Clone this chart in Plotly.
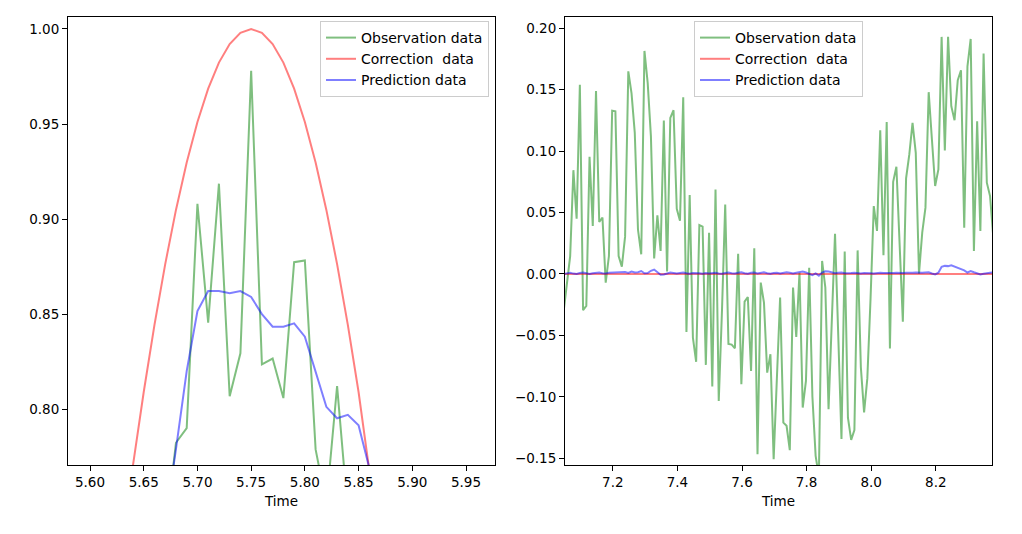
import numpy as np
import plotly.graph_objects as go

# ---------------- Left panel data ----------------
t_left = [5.62, 5.63, 5.64, 5.65, 5.66, 5.67, 5.68, 5.69, 5.70, 5.71, 5.72, 5.73, 5.74,
          5.75, 5.76, 5.77, 5.78, 5.79, 5.80, 5.81, 5.82, 5.83, 5.84, 5.85, 5.86,
          5.87, 5.88]
obs_left = [0.60, 0.62, 0.65, 0.68, 0.70, 0.733, 0.7823, 0.790, 0.908, 0.8455, 0.9186,
            0.8068, 0.8294, 0.978, 0.8236, 0.8266, 0.8058, 0.8773, 0.8782, 0.7788,
            0.750, 0.8121, 0.746, 0.70, 0.68, 0.66, 0.64]
cor_left = [0.685, 0.729, 0.7705, 0.809, 0.8443, 0.8763, 0.9048, 0.9298, 0.9511, 0.9686,
            0.9823, 0.9921, 0.998, 1.000, 0.998, 0.9921, 0.9823, 0.9686, 0.9511, 0.9298,
            0.9048, 0.8763, 0.8443, 0.809, 0.7705, 0.729, 0.685]
pred_left = [0.64, 0.66, 0.68, 0.70, 0.72, 0.74, 0.779, 0.820, 0.8516, 0.8621, 0.8621,
             0.861, 0.8621, 0.859, 0.850, 0.8434, 0.8434, 0.8451, 0.8381, 0.820, 0.8012,
             0.7952, 0.797, 0.7915, 0.769, 0.74, 0.72]

# ---------------- Right panel data ----------------
t_right = np.round(7.048 + 0.01 * np.arange(134), 3)
obs_right = [
    -0.03, -0.008, 0.0146, 0.0845, 0.045, 0.154, -0.0295, -0.026, 0.0954, 0.039,
    0.149, 0.0423, 0.046, -0.007, 0.0146, 0.133, 0.1325, 0.0146, 0.006, 0.0304,
    0.165, 0.147, 0.115, 0.036, 0.016, 0.1816, 0.1556, 0.112, 0.0127, 0.0477,
    0.0187, 0.125, 0.002, 0.127, 0.1333, 0.0531, 0.0434, 0.1439, -0.0472, 0.0642,
    -0.0518, -0.0715, 0.0398, 0.0385, -0.074, 0.0336, -0.0916, 0.0688, -0.1033, -0.03,
    0.0566, -0.057, -0.0575, -0.0605, 0.0165, -0.0897, -0.0225, -0.0187, -0.079, 0.021,
    -0.1468, -0.007, -0.0233, -0.0803, -0.0653, -0.1507, -0.085, -0.0192, -0.121, -0.1236,
    -0.1434, -0.011, -0.0512, 0.001, -0.1087, -0.087, 0.005, -0.10, -0.148, -0.165,
    0.0106, -0.011, -0.110, -0.04, 0.0328, -0.05, -0.1344, 0.0182, -0.117, -0.135,
    -0.127, 0.0192, -0.076, -0.1127, -0.085, -0.02, 0.0553, 0.035, 0.117, 0.0152,
    0.1238, -0.0607, 0.075, 0.0873, 0.02, -0.0388, 0.0778, 0.0973, 0.123, 0.0986,
    0.0003, 0.0336, 0.054, 0.148, 0.1095, 0.0716, 0.0851, 0.193, 0.1005, 0.193,
    0.1366, 0.1252, 0.1577, 0.1659, 0.0377, 0.169, 0.1913, 0.0187, 0.1244, 0.035,
    0.1794, 0.0743, 0.0634, 0.03]
cor_right = [0.0] * 134
pred_right = [
    0.0, 0.0005, 0.001, 0.0003, 0.0, 0.0008, 0.0012, 0.0006, 0.0, 0.0006,
    0.001, 0.0012, 0.0006, 0.0004, 0.001, 0.0012, 0.0014, 0.001, 0.0012, 0.0016,
    0.0008, 0.002, 0.0012, 0.0014, 0.0024, 0.0006, 0.0008, 0.0026, 0.0036, 0.0012,
    -0.0006, -0.0004, 0.0004, 0.0012, 0.0008, 0.0004, 0.0008, 0.0012, 0.0006, 0.0002,
    0.0008, 0.001, 0.0006, 0.0002, 0.0008, 0.0004, 0.0006, 0.001, 0.0004, 0.0002,
    0.0008, 0.0012, 0.0006, 0.0004, 0.001, 0.0014, 0.0006, 0.0002, 0.001, 0.0012,
    0.0004, 0.0008, 0.0014, 0.0006, 0.0002, 0.0008, 0.001, 0.0004, 0.0008, 0.0014,
    0.001, 0.0004, 0.001, 0.0016, 0.002, 0.0012, 0.0002, -0.001, 0.0004, -0.0014,
    0.0012, 0.0022, 0.002, 0.001, 0.0006, 0.001, 0.0012, 0.0006, 0.0004, 0.0008,
    0.001, 0.0006, 0.0004, 0.0008, 0.001, 0.0006, 0.0004, 0.0008, 0.001, 0.0008,
    0.0006, 0.0004, 0.0008, 0.001, 0.0006, 0.0008, 0.001, 0.0008, 0.001, 0.0012,
    0.0008, 0.001, 0.0012, 0.0014, 0.0004, -0.0004, 0.001, 0.0058, 0.0066, 0.0064,
    0.007, 0.006, 0.0046, 0.004, 0.003, 0.0012, 0.0024, 0.0014, 0.0002, -0.0004,
    0.0002, 0.0008, 0.001, 0.0012]

names = ["Observation data", "Correction\u00a0 data", "Prediction data"]
colors = ["rgba(0,128,0,0.5)", "rgba(255,0,0,0.5)", "rgba(0,0,255,0.5)"]

FONT = "DejaVu Sans"
W, H = 1022, 534

fig = go.Figure()
for ys, nm, c in zip([obs_left, cor_left, pred_left], names, colors):
    fig.add_trace(go.Scatter(x=t_left, y=ys, mode="lines", name=nm,
                             line=dict(color=c, width=2), xaxis="x", yaxis="y",
                             legend="legend"))
for ys, nm, c in zip([obs_right, cor_right, pred_right], names, colors):
    fig.add_trace(go.Scatter(x=t_right, y=ys, mode="lines", name=nm,
                             line=dict(color=c, width=2), xaxis="x2", yaxis="y2",
                             legend="legend2"))

axis_common = dict(showline=True, linecolor="black", linewidth=1, mirror=True,
                   ticks="outside", ticklen=5, tickcolor="black", tickwidth=1,
                   showgrid=False, zeroline=False,
                   tickfont=dict(family=FONT, size=13.5, color="black"))

y0 = (H - 465) / H
y1 = (H - 17) / H

legend_common = dict(yanchor="top", bgcolor="rgba(255,255,255,0.8)",
                     bordercolor="#cccccc", borderwidth=1,
                     font=dict(family=FONT, size=14), tracegroupgap=0, itemwidth=30)

fig.update_layout(
    width=W, height=H,
    margin=dict(l=0, r=0, t=0, b=0),
    paper_bgcolor="white", plot_bgcolor="white",
    font=dict(family=FONT, size=13.5, color="black"),
    xaxis=dict(domain=[68 / W, 495 / W], range=[5.5795, 5.977], anchor="y",
               tickvals=[5.60, 5.65, 5.70, 5.75, 5.80, 5.85, 5.90, 5.95],
               tickformat=".2f",
               title=dict(text="Time", font=dict(family=FONT, size=13.5), standoff=7),
               **axis_common),
    yaxis=dict(domain=[y0, y1], range=[0.7706, 1.0063], anchor="x",
               tickvals=[0.80, 0.85, 0.90, 0.95, 1.00], tickformat=".2f",
               **axis_common),
    xaxis2=dict(domain=[565 / W, 992 / W], range=[7.052, 8.374], anchor="y2",
                tickvals=[7.2, 7.4, 7.6, 7.8, 8.0, 8.2], tickformat=".1f",
                title=dict(text="Time", font=dict(family=FONT, size=13.5), standoff=7),
                **axis_common),
    yaxis2=dict(domain=[y0, y1], range=[-0.1555, 0.2092], anchor="x2",
                tickvals=[-0.15, -0.10, -0.05, 0.0, 0.05, 0.10, 0.15, 0.20],
                tickformat=".2f", **axis_common),
    legend=dict(x=489 / W, y=(H - 21) / H, xanchor="right", **legend_common),
    legend2=dict(x=778.5 / W, y=(H - 21) / H, xanchor="center", **legend_common),
)

fig.write_html("out.html")
